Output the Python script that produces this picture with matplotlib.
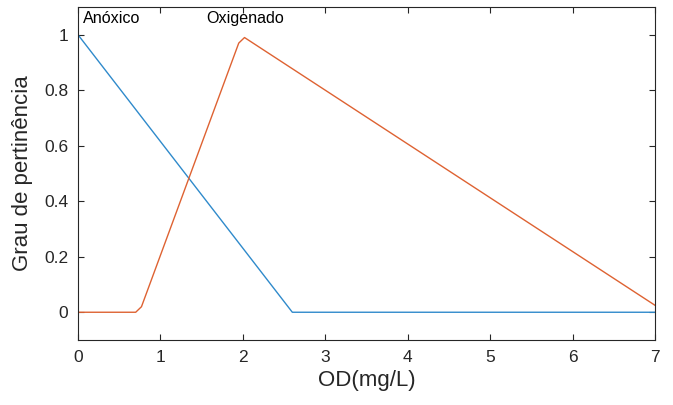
import matplotlib.pyplot as plt

# membership functions (vertices)
anox_x = [0, 2.6, 7]
anox_y = [1, 0, 0]
oxig_x = [0, 0.7, 0.77, 1.95, 2.02, 7]
oxig_y = [0, 0, 0.02, 0.97, 0.99, 0.025]

xticks = [0, 1, 2, 3, 4, 5, 6, 7]
yticks = [0, 0.2, 0.4, 0.6, 0.8, 1]
ytick_labels = ["0", "0.2", "0.4", "0.6", "0.8", "1"]

plt.rcParams["font.family"] = ["Liberation Sans", "DejaVu Sans"]
dark = "#262626"

fig = plt.figure(figsize=(6.73, 4.05), dpi=100)
ax = fig.add_axes([0.1159, 0.1605, 0.8574, 0.8222])

ax.plot(anox_x, anox_y, color="#2F8ACB", lw=1.0)
ax.plot(oxig_x, oxig_y, color="#DE6232", lw=1.0)

ax.text(0.06, 1.03, "Anóxico", fontsize=11.6, color="black", va="bottom")
ax.text(1.55, 1.03, "Oxigenado", fontsize=11.6, color="black", va="bottom")

ax.set_xlim(0, 7)
ax.set_ylim(-0.1, 1.1)
ax.set_xticks(xticks)
ax.set_yticks(yticks)
ax.set_yticklabels(ytick_labels)
ax.tick_params(direction="in", length=4, width=0.8, colors=dark, labelsize=12.5,
               top=True, right=True, pad=7)
for s in ax.spines.values():
    s.set_color(dark)
    s.set_linewidth(0.8)

ax.set_xlabel("OD(mg/L)", fontsize=16, color=dark, labelpad=4)
ax.set_ylabel("Grau de pertinência", fontsize=16, color=dark, labelpad=8)

fig.savefig("out.png", dpi=100)
